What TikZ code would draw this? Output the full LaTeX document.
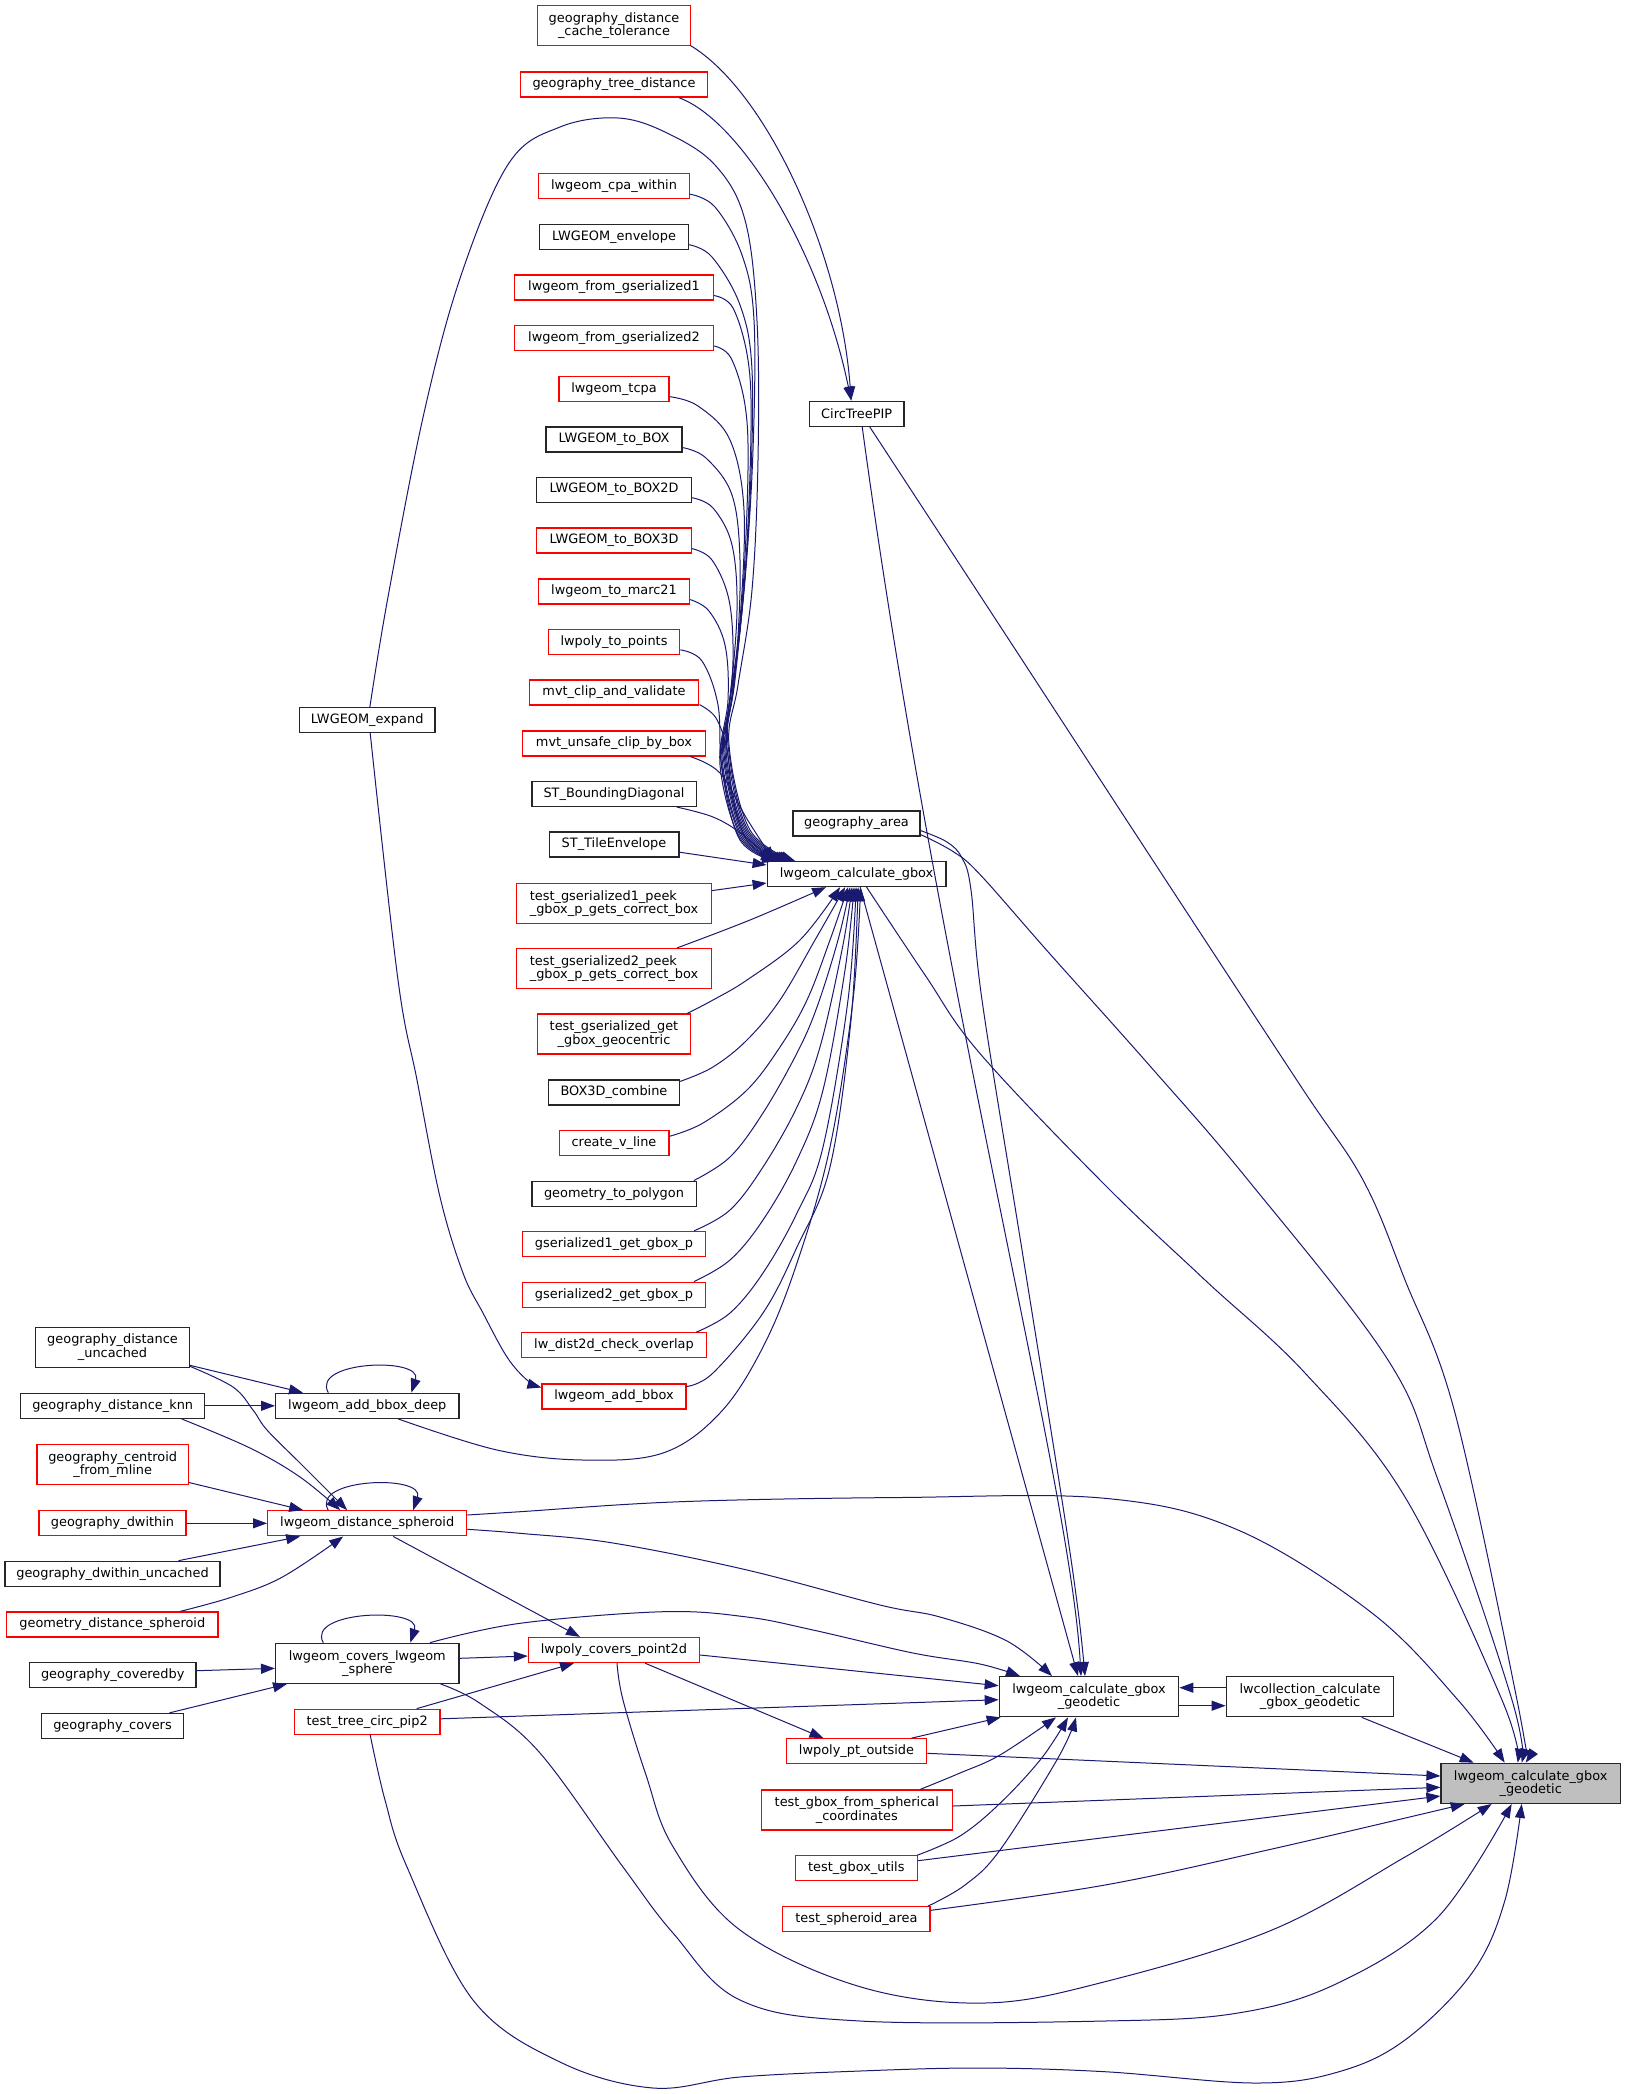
\documentclass[tikz,border=0pt]{standalone}
\usepackage{fontspec}
\setmainfont{DejaVu Sans}
\usetikzlibrary{arrows.meta}
\definecolor{edgeblue}{HTML}{191970}
\definecolor{boxgray}{HTML}{BFBFBF}
\begin{document}
\begin{tikzpicture}[x=1pt,y=-1pt,
  nbox/.style={draw=black!85, line width=1.3pt, fill=white, inner sep=0pt, minimum height=25pt, align=center, font=\fontsize{12.9}{13.4}\selectfont},
  rbox/.style={nbox, draw=red},
  tbox/.style={nbox, fill=boxgray},
  dbl/.style={minimum height=40pt},
  cedge/.style={draw=edgeblue, line width=1pt, -{Triangle[length=14pt,width=10pt]}},
  sm/.style={smooth, tension=0.6}]
\useasboundingbox (0,0) rectangle (1625,2094);
% ---------- column 1 ----------
\node[rbox, dbl, minimum width=153pt] (gdct) at (614,25.7) {geography\_distance\\\_cache\_tolerance};
\node[rbox, minimum width=186.5pt] (gtd) at (614,84.6) {geography\_tree\_distance};
\node[rbox, minimum width=151pt] (cpa) at (614,186.2) {lwgeom\_cpa\_within};
\node[nbox, minimum width=148.5pt] (env) at (614,236.7) {LWGEOM\_envelope};
\node[rbox, minimum width=199pt] (fg1) at (614,287.6) {lwgeom\_from\_gserialized1};
\node[rbox, minimum width=199pt] (fg2) at (614,338) {lwgeom\_from\_gserialized2};
\node[rbox, minimum width=110pt] (tcpa) at (614,388.7) {lwgeom\_tcpa};
\node[nbox, minimum width=136pt] (tobox) at (614,439.6) {LWGEOM\_to\_BOX};
\node[nbox, minimum width=154.5pt] (tobox2d) at (614,489.7) {LWGEOM\_to\_BOX2D};
\node[rbox, minimum width=154.5pt] (tobox3d) at (614,540.6) {LWGEOM\_to\_BOX3D};
\node[rbox, minimum width=151pt] (marc) at (614,591.6) {lwgeom\_to\_marc21};
\node[rbox, minimum width=131.5pt] (topts) at (614,641.9) {lwpoly\_to\_points};
\node[rbox, minimum width=169.6pt] (mvtclip) at (614,692.6) {mvt\_clip\_and\_validate};
\node[rbox, minimum width=182.6pt] (mvtunsafe) at (614,743.4) {mvt\_unsafe\_clip\_by\_box};
\node[nbox, minimum width=164.3pt] (stbd) at (614,793.9) {ST\_BoundingDiagonal};
\node[nbox, minimum width=129.7pt] (stte) at (614,844.6) {ST\_TileEnvelope};
\node[rbox, dbl, align=left, minimum width=194.6pt] (tg1) at (614,903.6) {test\_gserialized1\_peek\\\_gbox\_p\_gets\_correct\_box};
\node[rbox, dbl, align=left, minimum width=194.6pt] (tg2) at (614,968.6) {test\_gserialized2\_peek\\\_gbox\_p\_gets\_correct\_box};
\node[rbox, dbl, minimum width=153.4pt] (tgget) at (614,1034) {test\_gserialized\_get\\\_gbox\_geocentric};
\node[nbox, minimum width=131pt] (b3c) at (614,1092.4) {BOX3D\_combine};
\node[rbox, minimum width=109.7pt] (cvl) at (614,1143.3) {create\_v\_line};
\node[nbox, minimum width=164.3pt] (g2p) at (614,1193.7) {geometry\_to\_polygon};
\node[rbox, minimum width=182.6pt] (gs1) at (614,1244) {gserialized1\_get\_gbox\_p};
\node[rbox, minimum width=182.6pt] (gs2) at (614,1294.7) {gserialized2\_get\_gbox\_p};
\node[rbox, minimum width=185.3pt] (lwd) at (614,1345.3) {lw\_dist2d\_check\_overlap};
\node[rbox, minimum width=144pt] (addbbox) at (614,1396.5) {lwgeom\_add\_bbox};
\node[rbox, minimum width=171pt] (lwpcp) at (614,1650) {lwpoly\_covers\_point2d};
% ---------- column 2 ----------
\node[nbox, minimum width=94.6pt] (circ) at (856.7,413.7) {CircTreePIP};
\node[nbox, minimum width=127pt] (garea) at (856.5,823.6) {geography\_area};
\node[nbox, minimum width=178.7pt] (cg) at (856.6,874) {lwgeom\_calculate\_gbox};
\node[rbox, minimum width=140.4pt] (lpo) at (856.5,1751.3) {lwpoly\_pt\_outside};
\node[rbox, dbl, minimum width=191pt] (tgfs) at (856.8,1810) {test\_gbox\_from\_spherical\\\_coordinates};
\node[rbox, minimum width=122pt] (tgu) at (856.3,1868.3) {test\_gbox\_utils};
\node[rbox, minimum width=147.3pt] (tsa) at (856.4,1919.3) {test\_spheroid\_area};
% ---------- column 0 ----------
\node[nbox, minimum width=135.6pt] (expand) at (367.2,720) {LWGEOM\_expand};
\node[nbox, minimum width=183.3pt] (abd) at (367.3,1405.8) {lwgeom\_add\_bbox\_deep};
\node[rbox, minimum width=199pt] (lds) at (367.2,1523.3) {lwgeom\_distance\_spheroid};
\node[nbox, dbl, minimum width=183.3pt] (clws) at (367.3,1663.3) {lwgeom\_covers\_lwgeom\\\_sphere};
\node[rbox, minimum width=145.7pt] (ttcp) at (367.2,1721.8) {test\_tree\_circ\_pip2};
% ---------- leftmost ----------
\node[nbox, dbl, minimum width=153.6pt] (gdu) at (112.5,1347.3) {geography\_distance\\\_uncached};
\node[nbox, minimum width=184pt] (gdk) at (112.7,1405.8) {geography\_distance\_knn};
\node[rbox, dbl, minimum width=151.3pt] (gcfm) at (112.7,1464.5) {geography\_centroid\\\_from\_mline};
\node[rbox, minimum width=147pt] (gdw) at (112.5,1523.3) {geography\_dwithin};
\node[nbox, minimum width=215pt] (gdwu) at (112.5,1573.8) {geography\_dwithin\_uncached};
\node[rbox, minimum width=211.3pt] (gds) at (112.3,1624.5) {geometry\_distance\_spheroid};
\node[nbox, minimum width=166.7pt] (gcb) at (112.7,1675.2) {geography\_coveredby};
\node[nbox, minimum width=141.6pt] (gcv) at (112.5,1726) {geography\_covers};
% ---------- right ----------
\node[nbox, dbl, minimum width=179.4pt] (geo) at (1089,1696.7) {lwgeom\_calculate\_gbox\\\_geodetic};
\node[nbox, dbl, minimum width=167.4pt] (lwc) at (1310,1696.7) {lwcollection\_calculate\\\_gbox\_geodetic};
\node[tbox, dbl, minimum width=179.3pt] (tgt) at (1530.7,1783.3) {lwgeom\_calculate\_gbox\\\_geodetic};

% ================= edges =================
% into CircTreePIP
\draw[cedge] ([xshift=-1pt,yshift=1pt]gdct.south east) .. controls (765,90) and (840,250) .. ([xshift=-5.5pt]circ.north);
\draw[cedge] ([xshift=65pt]gtd.south) .. controls (740,120) and (820,250) .. ([xshift=-5.5pt]circ.north);
% bundle into lwgeom_calculate_gbox (top)
\draw[cedge] plot[sm] coordinates {([xshift=2.7pt]expand.north) (388,597) (424,413) (461,275.5) (509,163) (560,127) (618,118) (667,133) (715,165) (745,220) (757,321) (758,460) (752,590) (738,685) (729,745) (750,830) ([xshift=-61.5pt]cg.north)};
\draw[cedge] plot[sm] coordinates {([yshift=-8pt]cpa.east) (715,207) (742,255) (754,320) (753,450) (745,580) (733,690) (728,745) (748,830) ([xshift=-63.5pt]cg.north)};
\draw[cedge] plot[sm] coordinates {([yshift=-8pt]env.east) (712,257) (740,305) (752,370) (750,500) (742,610) (732,695) (727,748) (747,831) ([xshift=-65.5pt]cg.north)};
\draw[cedge] plot[sm] coordinates {([yshift=-8pt]fg1.east) (733,308) (748,360) (751,430) (746,560) (735,680) (726,750) (746,832) ([xshift=-67.5pt]cg.north)};
\draw[cedge] plot[sm] coordinates {([yshift=-8pt]fg2.east) (731,358) (745,405) (748,470) (743,590) (733,690) (725,752) (745,833) ([xshift=-69.5pt]cg.north)};
\draw[cedge] plot[sm] coordinates {([yshift=-8pt]tcpa.east) (698,406) (730,440) (744,510) (740,620) (730,700) (724,754) (744,834) ([xshift=-71.5pt]cg.north)};
\draw[cedge] plot[sm] coordinates {([yshift=-8pt]tobox.east) (706,458) (732,495) (740,560) (737,650) (728,712) (723,756) (743,835) ([xshift=-73.5pt]cg.north)};
\draw[cedge] plot[sm] coordinates {([yshift=-8pt]tobox2d.east) (713,508) (732,545) (737,610) (730,700) (722,758) (742,836) ([xshift=-75.5pt]cg.north)};
\draw[cedge] plot[sm] coordinates {([yshift=-8pt]tobox3d.east) (712,560) (729,600) (733,660) (727,720) (721,760) (741,837) ([xshift=-77.5pt]cg.north)};
\draw[cedge] plot[sm] coordinates {([yshift=-8pt]marc.east) (709,611) (725,645) (728,700) (720,765) (740,838) ([xshift=-79.5pt]cg.north)};
\draw[cedge] plot[sm] coordinates {([yshift=-8pt]topts.east) (702,661) (718,705) (722,770) (740,840) ([xshift=-80.5pt]cg.north)};
\draw[cedge] plot[sm] coordinates {([yshift=-12pt]mvtclip.east) (716,718) (727,750) (733,800) (748,842) ([xshift=-81.5pt]cg.north)};
\draw[cedge] plot[sm] coordinates {([xshift=76pt]mvtunsafe.south) (720,773) (747,819) ([xshift=-82.5pt]cg.north)};
\draw[cedge] plot[sm] coordinates {([xshift=62.7pt]stbd.south) (713,817) (742,834) ([xshift=-84.5pt]cg.north)};
\draw[cedge] ([yshift=-7.6pt]stte.east) -- ([yshift=9pt]cg.west);
\draw[cedge] ([yshift=13pt]tg1.east) -- ([yshift=-9pt]cg.west);
% bundle into lwgeom_calculate_gbox (bottom)
\draw[cedge] plot[sm] coordinates {([xshift=-35pt]tg2.north east) (750,920) ([xshift=-30.5pt]cg.south)};
\draw[cedge] plot[sm] coordinates {([xshift=-4pt]tgget.north east) (713,1000) (747,980) (800,940) ([xshift=-16.5pt]cg.south)};
\draw[cedge] plot[sm] coordinates {([yshift=11pt]b3c.east) (713,1067) (747,1040) (780,1000) (815,940) ([xshift=-11.5pt]cg.south)};
\draw[cedge] plot[sm] coordinates {([yshift=7pt]cvl.east) (703,1123) (747,1090) (780,1047) (807,1000) (830,940) ([xshift=-8.5pt]cg.south)};
\draw[cedge] plot[sm] coordinates {([xshift=-3pt]g2p.north east) (730,1157) (763,1113) (797,1053) (817,1007) (838,940) ([xshift=-6.5pt]cg.south)};
\draw[cedge] plot[sm] coordinates {([xshift=-12pt]gs1.north east) (730,1210) (763,1167) (797,1107) (820,1047) (842,950) ([xshift=-4.5pt]cg.south)};
\draw[cedge] plot[sm] coordinates {([xshift=-12pt]gs2.north east) (730,1260) (763,1220) (797,1160) (823,1090) (845,970) ([xshift=-2.5pt]cg.south)};
\draw[cedge] plot[sm] coordinates {([xshift=-11pt]lwd.north east) (730,1313) (763,1273) (797,1213) (823,1147) (848,1000) ([xshift=-0.5pt]cg.south)};
\draw[cedge] plot[sm] coordinates {([yshift=10pt]addbbox.east) (713,1373) (763,1313) (797,1247) (830,1167) (851,1020) ([xshift=1.5pt]cg.south)};
\draw[cedge] plot[sm] coordinates {([xshift=31pt]abd.south) (497,1450) (583,1460) (663,1453) (720,1413) (763,1347) (797,1263) (830,1147) (853,1000) ([xshift=4pt]cg.south)};
% LWGEOM_expand -> lwgeom_add_bbox
\draw[cedge] plot[sm] coordinates {([xshift=3pt]expand.south) (398,980) (417,1080) (440,1197) (463,1273) (483,1313) (507,1357) (527,1380) ([yshift=9pt]addbbox.west)};
% into lwgeom_calculate_gbox_geodetic (middle)
\draw[cedge] ([xshift=5.5pt]circ.south) .. controls (940,1000) and (1070,1480) .. ([xshift=-8pt]geo.north);
\draw[cedge] plot[sm] coordinates {([yshift=-7pt]garea.east) (947,842) (962,858) (971,890) (982,1000) (1022,1250) (1062,1500) (1078,1610) ([xshift=-4pt]geo.north)};
\draw[cedge] ([xshift=3.5pt]cg.south) -- ([xshift=-11pt]geo.north);
\draw[cedge] plot[sm] coordinates {([yshift=-6pt]lds.east) (520,1533.3) (613,1543) (747,1570) (880,1605) (940,1617) (1007,1641) ([xshift=-37pt]geo.north)};
\draw[cedge] plot[sm] coordinates {([xshift=62.7pt]clws.north) (520,1623.3) (663,1611.7) (747,1617) (813,1630) (913,1653) (980,1664) ([xshift=-69pt]geo.north)};
\draw[cedge] ([yshift=-5pt]lwpcp.east) -- ([yshift=11pt]geo.west);
\draw[cedge] ([yshift=3pt]ttcp.east) -- ([yshift=-3pt]geo.west);
\draw[cedge] ([xshift=55pt]lpo.north) -- ([xshift=2pt]geo.south west);
\draw[cedge] plot[sm] coordinates {([xshift=63.5pt]tgfs.north) (960,1773) (1000,1755) ([xshift=-33pt]geo.south)};
\draw[cedge] plot[sm] coordinates {([xshift=61pt]tgu.north) (960,1836) (1000,1803.3) (1041.7,1758) ([xshift=-21pt]geo.south)};
\draw[cedge] plot[sm] coordinates {([xshift=71.5pt]tsa.north) (965,1885) (1000,1850) (1058,1758) ([xshift=-13pt]geo.south)};
\draw[cedge] ([yshift=9pt]lwc.west) -- ([yshift=9pt]geo.east);
\draw[cedge] ([yshift=-9pt]geo.east) -- ([yshift=-9pt]lwc.west);
% into target
\draw[cedge] plot[sm] coordinates {([xshift=13pt]circ.south) (1000,626) (1150,856) (1300,1085) (1363,1180) (1405,1280) (1455,1413) (1517,1700) ([xshift=-5pt]tgt.north)};
\draw[cedge] plot[sm] coordinates {([yshift=-11pt]garea.east) (953,851.5) (980,874.5) (1050,954) (1150,1066) (1248,1180) (1388,1360) (1438,1480) (1512,1700) ([xshift=-9pt]tgt.north)};
\draw[cedge] plot[sm] coordinates {([xshift=10pt]cg.south) (925,975) (980,1053.5) (1105,1185) (1205,1280) (1305,1373) (1405,1497) (1502,1700) ([xshift=-13pt]tgt.north)};
\draw[cedge] plot[sm] coordinates {([yshift=8.3pt]lds.east) (520,1511.7) (680,1501.7) (900,1497.5) (1105,1498.3) (1238,1530) (1372,1613) (1458,1700) ([xshift=-26pt]tgt.north)};
\draw[cedge] ([xshift=51.7pt]lwc.south) -- ([xshift=-57pt]tgt.north);
\draw[cedge] ([yshift=-2pt]lpo.east) -- ([yshift=7.3pt]tgt.west);
\draw[cedge] ([yshift=4pt]tgfs.east) -- ([yshift=-4pt]tgt.west);
\draw[cedge] ([yshift=7.6pt]tgu.east) -- ([yshift=-12.7pt]tgt.west);
\draw[cedge] plot[sm] coordinates {([yshift=9pt]tsa.east) (1105,1885) (1272,1849) ([xshift=-66pt]tgt.south)};
\draw[cedge] plot[sm] coordinates {([xshift=3pt]lwpcp.south) (623,1700) (646,1775) (673,1846.7) (740,1930) (860,1986.7) (985,2003) (1105,1981.7) (1272,1930) (1405,1857) ([xshift=-39pt]tgt.south)};
\draw[cedge] plot[sm] coordinates {([xshift=-19pt]clws.south east) (480,1703.3) (540,1753) (623,1867) (673,1933) (740,2000) (860,2021) (1105,2021) (1238,2013) (1338,1983) (1438,1917) ([xshift=-19pt]tgt.south)};
\draw[cedge] plot[sm] coordinates {([xshift=3pt]ttcp.south) (385,1800) (407,1867) (473,2000) (560,2062) (653,2088) (740,2077) (860,2071) (980,2068) (1105,2071.7) (1255,2083) (1338,2072) (1405,2040) (1472,1973) (1505,1900) ([xshift=-9pt]tgt.south)};
% lwpoly_covers_point2d and lwpoly_pt_outside
\draw[cedge] ([xshift=26pt]lds.south) -- ([xshift=-34pt]lwpcp.north);
\draw[cedge] ([yshift=5pt]clws.east) -- ([yshift=-6pt]lwpcp.west);
\draw[cedge] ([xshift=49.5pt]ttcp.north) -- ([xshift=-40pt]lwpcp.south);
\draw[cedge] ([xshift=31pt]lwpcp.south) -- ([xshift=-33pt]lpo.north);
% left side
\draw[cedge] ([yshift=-18pt]gdu.east) -- ([xshift=28pt]abd.north west);
\draw[cedge] plot[sm] coordinates {([yshift=-19pt]gdu.east) (233,1387) (253,1410) (267,1430) (300,1463) ([xshift=-20pt]lds.north)};
\draw[cedge] (gdk.east) -- (abd.west);
\draw[cedge] plot[sm] coordinates {([xshift=69pt]gdk.south) (250,1448) (300,1477) ([xshift=-27pt]lds.north)};
\draw[cedge] ([yshift=-18pt]gcfm.east) -- ([xshift=-64pt]lds.north);
\draw[cedge] (gdw.east) -- (lds.west);
\draw[cedge] ([xshift=66pt]gdwu.north) -- ([xshift=-67pt]lds.south);
\draw[cedge] plot[sm] coordinates {([xshift=68pt]gds.north) (233,1596.7) (283,1576.7) ([xshift=-24pt]lds.south)};
\draw[cedge] ([yshift=4.5pt]gcb.east) -- ([yshift=-5pt]clws.west);
\draw[cedge] ([xshift=57pt]gcv.north) -- ([xshift=12pt]clws.south west);
% self loops
\draw[cedge] ([xshift=-39pt]abd.north) .. controls +(-18,-32) and +(12,-36) .. ([xshift=44pt]abd.north);
\draw[cedge] ([xshift=-39pt]lds.north) .. controls +(-18,-32) and +(12,-36) .. ([xshift=46pt]lds.north);
\draw[cedge] ([xshift=-44pt]clws.north) .. controls +(-18,-32) and +(12,-36) .. ([xshift=43pt]clws.north);
\end{tikzpicture}
\end{document}
